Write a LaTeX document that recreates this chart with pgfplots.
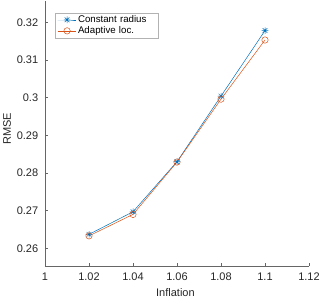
\documentclass[border=0pt]{standalone}
\usepackage{pgfplots}
\pgfplotsset{compat=1.18}
\usepackage{fontspec}
\setmainfont{Liberation Sans}
\definecolor{mblue}{rgb}{0,0.447,0.741}
\definecolor{morange}{rgb}{0.85,0.325,0.098}
\definecolor{axgray}{rgb}{0.15,0.15,0.15}
\definecolor{axline}{rgb}{0.4,0.4,0.4}
\pgfdeclareplotmark{mstar}{%
  \pgfpathmoveto{\pgfqpoint{-\pgfplotmarksize}{0pt}}\pgfpathlineto{\pgfqpoint{\pgfplotmarksize}{0pt}}%
  \pgfpathmoveto{\pgfqpoint{0pt}{-\pgfplotmarksize}}\pgfpathlineto{\pgfqpoint{0pt}{\pgfplotmarksize}}%
  \pgfpathmoveto{\pgfqpoint{-0.707\pgfplotmarksize}{-0.707\pgfplotmarksize}}\pgfpathlineto{\pgfqpoint{0.707\pgfplotmarksize}{0.707\pgfplotmarksize}}%
  \pgfpathmoveto{\pgfqpoint{-0.707\pgfplotmarksize}{0.707\pgfplotmarksize}}\pgfpathlineto{\pgfqpoint{0.707\pgfplotmarksize}{-0.707\pgfplotmarksize}}%
  \pgfusepathqstroke}
\begin{document}
\begin{tikzpicture}
\begin{axis}[
  scale only axis,
  width=264pt, height=264.5pt,
  xmin=1, xmax=1.12, ymin=0.2553, ymax=0.32552,
  axis lines*=left,
  axis line style={axline, line width=0.5pt},
  tick align=inside,
  tick style={axline, line width=0.5pt},
  major tick length=2.6pt,
  xtick={1,1.02,1.04,1.06,1.08,1.1,1.12},
  xticklabels={1,1.02,1.04,1.06,1.08,1.1,1.12},
  ytick={0.26,0.27,0.28,0.29,0.3,0.31,0.32},
  yticklabels={0.26,0.27,0.28,0.29,0.3,0.31,0.32},
  ticklabel style={font=\fontsize{11}{12}\selectfont, text=axgray},
  yticklabel style={xshift=-3.3pt},
  xticklabel style={yshift=-3.3pt},
  xlabel={Inflation}, ylabel={RMSE},
  xlabel style={at={(axis description cs:0.494,-0.1134)}, anchor=base},
  ylabel style={at={(axis description cs:-0.1288,0.518)}, anchor=base, rotate=0},
  label style={font=\fontsize{11}{12}\selectfont, text=axgray},
  legend style={at={(axis description cs:0.0367,0.958)}, anchor=north west,
    draw=gray!60, line width=0.5pt, fill=white,
    inner xsep=2.5pt, inner ysep=2.5pt,
    row sep=2.3pt, column sep=1.3pt,
    font=\fontsize{9.7}{11}\selectfont,
    nodes={inner sep=0pt, text height=6.8pt, text depth=2pt, text width=78pt, align=left}},
  legend cell align=left,
  legend image code/.code={\draw[mark repeat=2,mark phase=2,#1] plot coordinates {(0cm,0cm) (0.33cm,0cm) (0.66cm,0cm)};},
]
\coordinate (sw) at (rel axis cs:0,0);
\addplot[mblue, line width=0.5pt, mark=mstar, mark size=3.3pt] coordinates {
(1.02,0.2637) (1.04,0.2697) (1.06,0.2830) (1.08,0.3004) (1.1,0.3178)};
\addlegendentry{Constant radius}
\addplot[morange, line width=0.5pt, mark=o, mark size=3.2pt, mark options={fill=none}] coordinates {
(1.02,0.2633) (1.04,0.2690) (1.06,0.2829) (1.08,0.2996) (1.1,0.3153)};
\addlegendentry{Adaptive loc.}
\end{axis}
\pgfresetboundingbox
\path (sw) ++(-45pt,-32pt) rectangle ++(320pt,298pt);
\end{tikzpicture}
\end{document}
